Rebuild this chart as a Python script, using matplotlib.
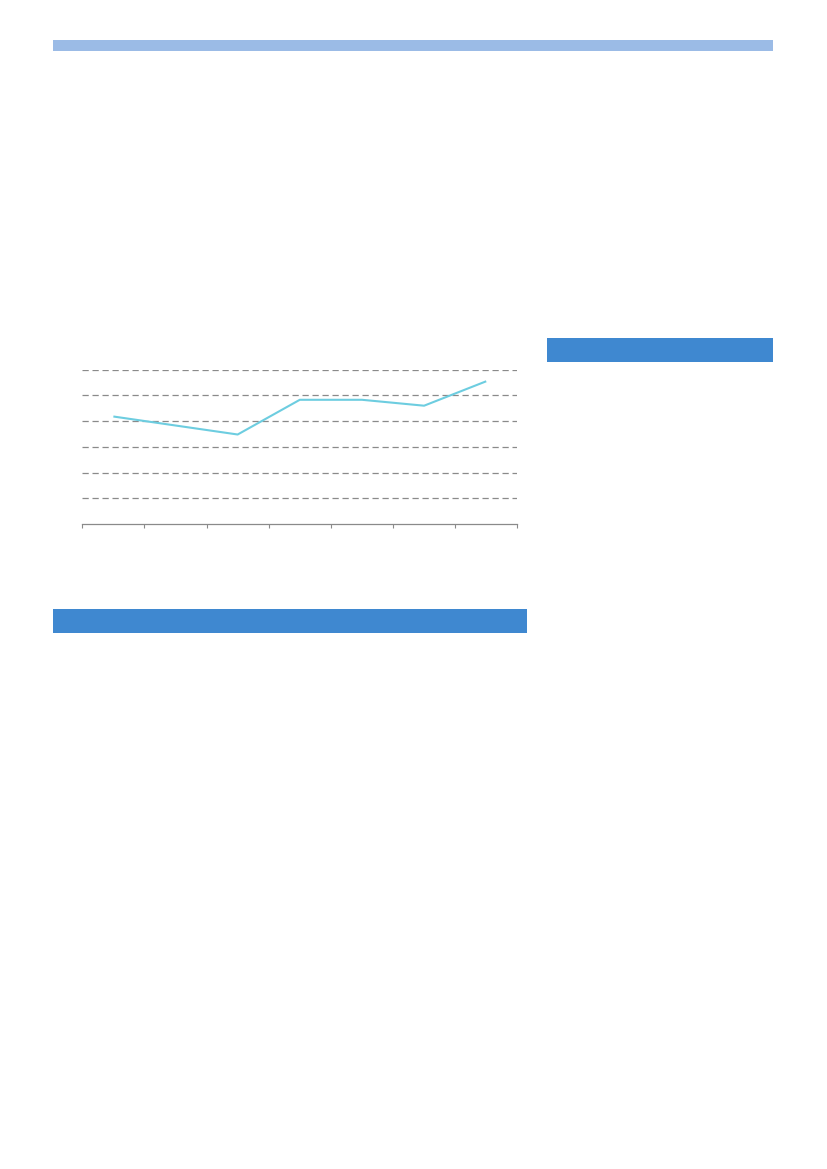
import matplotlib
matplotlib.use("Agg")
import matplotlib.pyplot as plt
from matplotlib.patches import Rectangle
import numpy as np

# page size in pixels
W, H = 827, 1169

# line series (7 categories, no labels shown on the page)
categories = list(range(7))
values = [4.18, 3.83, 3.48, 4.83, 4.83, 4.60, 5.55]
grid_levels = [1, 2, 3, 4, 5, 6]

fig = plt.figure(figsize=(W / 100, H / 100), dpi=100)
fig.patch.set_facecolor("white")


def page_box(x0, y0, x1, y1, color):
    # page coords in pixels, top-left origin
    fig.patches.append(Rectangle((x0 / W, 1 - y1 / H), (x1 - x0) / W, (y1 - y0) / H,
                                 transform=fig.transFigure, facecolor=color,
                                 edgecolor="none", zorder=0))


page_box(53, 40, 773, 51, "#9bbbe6")
page_box(547, 338, 773, 362, "#3f88d0")
page_box(53, 609, 527, 633, "#3f88d0")

# chart area
left, right, top, bottom = 82.3, 517.3, 369.7, 524
ax = fig.add_axes([left / W, 1 - bottom / H, (right - left) / W, (bottom - top) / H])
ax.set_xlim(-0.5, len(categories) - 0.5)
ax.set_ylim(0, 6)

for g in grid_levels:
    ax.axhline(g, color="#8a8a8a", linestyle=(0, (5, 3)), linewidth=0.9, zorder=1)

ax.plot(categories, values, color="#6dcde0", linewidth=1.5, zorder=3,
        solid_capstyle="butt")

for s in ["top", "right", "left"]:
    ax.spines[s].set_visible(False)
ax.spines["bottom"].set_color("#8a8a8a")
ax.spines["bottom"].set_linewidth(0.9)
ax.set_xticks(np.arange(-0.5, len(categories), 1.0))
ax.set_xticklabels([])
ax.set_yticks([])
ax.tick_params(axis="x", direction="out", length=3, width=0.8, color="#8a8a8a")
ax.patch.set_alpha(0)

fig.savefig("out.png", dpi=100, facecolor="white")
